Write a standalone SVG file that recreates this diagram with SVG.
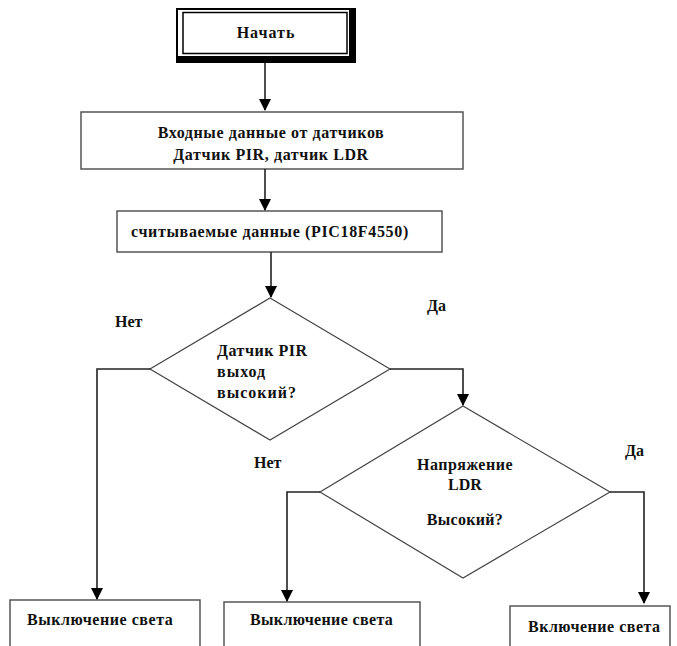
<svg xmlns="http://www.w3.org/2000/svg" width="677" height="646" viewBox="0 0 677 646">
<style>
.box{fill:#fff;stroke:#555;stroke-width:1.5}
.dia{fill:#fff;stroke:#444;stroke-width:1.2}
.c{text-anchor:middle}
.ln{fill:none;stroke:#222;stroke-width:1.6}
</style>
<defs>
<marker id="ah" markerWidth="12" markerHeight="14" refX="11" refY="6" orient="auto" markerUnits="userSpaceOnUse" viewBox="0 0 12 12">
<path d="M0,0 L12,6 L0,12 Z" fill="#000"/>
</marker>
</defs>
<rect width="677" height="646" fill="#fff"/>
<g font-family="Liberation Serif, Times New Roman, serif" font-weight="bold" font-size="16" fill="#111">
<g id="start">
<rect x="176" y="8" width="180" height="55" fill="#000"/>
<rect x="178" y="10" width="171" height="46" fill="#fff"/>
<rect x="183" y="12.5" width="164" height="41" fill="none" stroke="#000" stroke-width="1.5"/>
<text class="c" x="266" y="38" letter-spacing="1">Начать</text>
</g>
<g id="input">
<rect class="box" x="81" y="112" width="382" height="57"/>
<text class="c" x="271" y="138" letter-spacing="0.6">Входные данные от датчиков</text>
<text class="c" x="271" y="160" letter-spacing="0.6">Датчик PIR, датчик LDR</text>
</g>
<g id="read">
<rect class="box" x="117" y="211" width="325" height="41"/>
<text x="131" y="237" letter-spacing="0.65">считываемые данные (PIC18F4550)</text>
</g>
<g id="pir">
<polygon class="dia" points="270,298 390,369 270,440 150,369"/>
<text x="217" y="356" letter-spacing="0.5">Датчик PIR</text>
<text x="217" y="377" letter-spacing="1">выход</text>
<text x="217" y="398" letter-spacing="1">высокий?</text>
</g>
<g id="ldr">
<polygon class="dia" points="463,406 610,492 463,578 320,492"/>
<text class="c" x="465" y="470" letter-spacing="0.5">Напряжение</text>
<text class="c" x="465" y="490">LDR</text>
<text class="c" x="465" y="525" letter-spacing="0.3">Высокий?</text>
</g>
<g id="off1">
<rect class="box" x="10" y="600" width="190" height="70"/>
<text x="27" y="625" letter-spacing="0.55">Выключение света</text>
</g>
<g id="off2">
<rect class="box" x="224" y="602" width="196" height="70"/>
<text x="250" y="625" letter-spacing="0.35">Выключение света</text>
</g>
<g id="on">
<rect class="box" x="510" y="606" width="160" height="70"/>
<text x="528" y="632" letter-spacing="0.5">Включение света</text>
</g>
<g id="labels">
<text x="115" y="327">Нет</text>
<text x="427" y="311">Да</text>
<text x="254" y="468">Нет</text>
<text x="625" y="456">Да</text>
</g>
</g>
<g id="connectors">
<path class="ln" d="M265,63 V110" marker-end="url(#ah)"/>
<path class="ln" d="M265,169 V210" marker-end="url(#ah)"/>
<path class="ln" d="M271,252 V297" marker-end="url(#ah)"/>
<path class="ln" d="M150,369 H97 V599" marker-end="url(#ah)"/>
<path class="ln" d="M390,369 H463 V405" marker-end="url(#ah)"/>
<path class="ln" d="M320,492 H287 V601" marker-end="url(#ah)"/>
<path class="ln" d="M610,492 H644 V603" marker-end="url(#ah)"/>
</g>
</svg>
